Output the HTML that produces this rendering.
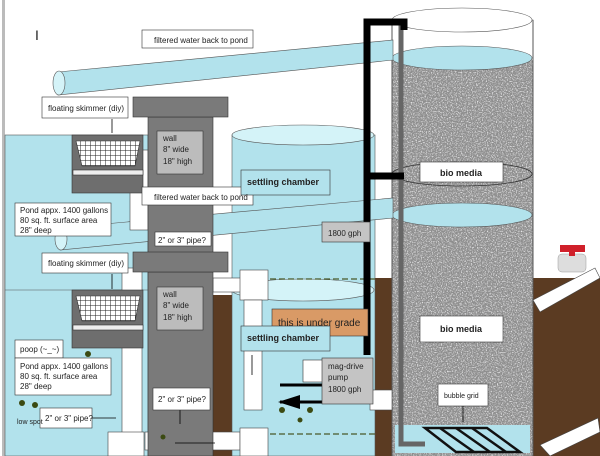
<!DOCTYPE html>
<html><head><meta charset="utf-8"><style>
html,body{margin:0;padding:0;background:#fff;}
svg{display:block;}
text{font-family:"Liberation Sans",sans-serif;font-size:8px;fill:#222;}
</style></head><body>
<svg width="600" height="456" viewBox="0 0 600 456" xmlns="http://www.w3.org/2000/svg">
<defs>
<filter id="grav" x="0" y="0" width="100%" height="100%">
<feTurbulence type="fractalNoise" baseFrequency="0.8" numOctaves="2" seed="3"/>
<feColorMatrix type="matrix" values="0 0 0 0 0.85  0 0 0 0 0.85  0 0 0 0 0.86  0 0 0 -3 1.6"/>
</filter>
<pattern id="grid" width="5" height="5" patternUnits="userSpaceOnUse"><rect width="5" height="5" fill="#fff"/><path d="M0 0H5M0 0V5" stroke="#222" stroke-width="1"/></pattern>
</defs>
<rect width="600" height="456" fill="#fff"/>
<rect x="2" y="0" width="3" height="456" fill="#bbb"/>
<rect x="375" y="278" width="20" height="178" fill="#5b3b22"/>
<rect x="533" y="278" width="67" height="178" fill="#5b3b22"/>
<rect x="213" y="295" width="20" height="161" fill="#5b3b22"/>
<rect x="5" y="135" width="143" height="321" fill="#b2e2ec" stroke="#555" stroke-width="0.6"/>
<line x1="5" y1="290" x2="148" y2="290" stroke="#555" stroke-width="0.6"/>
<rect x="232" y="135" width="143" height="321" fill="#b2e2ec" stroke="#555" stroke-width="0.6"/>
<ellipse cx="303" cy="135" rx="71" ry="10" fill="#d4f3f8" stroke="#555" stroke-width="0.6"/>
<ellipse cx="303" cy="290" rx="71" ry="11" fill="#d4f3f8" stroke="#555" stroke-width="0.6"/>
<line x1="270" y1="279" x2="375" y2="279" stroke="#4a5a2a" stroke-dasharray="6,3" stroke-width="1.2"/>
<line x1="270" y1="434" x2="375" y2="434" stroke="#4a5a2a" stroke-dasharray="6,3" stroke-width="1.2"/>
<rect x="392" y="20" width="141" height="436" fill="#fff" stroke="#555" stroke-width="0.6"/>
<rect x="392" y="60" width="141" height="396" fill="#8e8e8e"/>
<rect x="392" y="60" width="141" height="396" filter="url(#grav)"/>
<ellipse cx="462" cy="20" rx="70" ry="12" fill="#fff" stroke="#555" stroke-width="0.6"/>
<ellipse cx="462" cy="58" rx="70" ry="12" fill="#b2e2ec" stroke="#555" stroke-width="0.6"/>
<ellipse cx="462" cy="174" rx="70" ry="12" fill="none" stroke="#333" stroke-width="0.8"/>
<ellipse cx="462" cy="215" rx="70" ry="12" fill="#b2e2ec" stroke="#555" stroke-width="0.6"/>
<rect x="395" y="425" width="135" height="28" fill="#b2e2ec"/>
<line x1="392" y1="20" x2="392" y2="456" stroke="#555"/><line x1="533" y1="20" x2="533" y2="456" stroke="#555"/>
<path d="M401 24V444H425" stroke="#666" stroke-width="5" fill="none"/>
<g stroke="#111" stroke-width="2.5" fill="none"><path d="M425 428H487L520 452H456Z"/><path d="M440 428L474 452M456 428L490 452M472 428L506 452"/></g>
<path d="M58 72L393 40L393 60L58 95Z" fill="#b2e2ec" stroke="#555" stroke-width="0.6"/>
<ellipse cx="59" cy="83" rx="6" ry="12" fill="#d4f3f8" stroke="#555" stroke-width="0.6"/>
<path d="M60 228L393 198L393 218L60 250Z" fill="#b2e2ec" stroke="#555" stroke-width="0.6"/>
<ellipse cx="61" cy="239" rx="6" ry="11" fill="#d4f3f8" stroke="#555" stroke-width="0.6"/>
<path d="M367 355V22H404V30" stroke="#000" stroke-width="7" fill="none"/>
<path d="M367 176H404" stroke="#000" stroke-width="7"/>
<g fill="#fff" stroke="#444" stroke-width="0.6">
<rect x="122" y="268" width="20" height="188"/>
<rect x="130" y="150" width="18" height="80"/>
<rect x="213" y="278" width="30" height="14"/>
<rect x="240" y="270" width="28" height="30"/>
<rect x="244" y="300" width="18" height="110"/>
<rect x="108" y="432" width="36" height="24"/>
<rect x="145" y="432" width="95" height="18"/>
<rect x="240" y="428" width="28" height="28"/>
<rect x="370" y="390" width="22" height="20"/>
<path d="M533 300L595 268L600 278L540 312Z"/>
<path d="M540 445L598 418L600 432L550 456Z"/>
</g>
<rect x="558" y="254" width="28" height="18" rx="4" fill="#ddd" stroke="#999" stroke-width="0.5"/>
<rect x="560" y="245" width="25" height="7" fill="#d0202a"/><rect x="569" y="250" width="6" height="6" fill="#d0202a"/>
<g fill="#7a7a7a" stroke="#333" stroke-width="0.6">
<rect x="148" y="117" width="65" height="150"/>
<rect x="133" y="97" width="95" height="20"/>
<rect x="148" y="272" width="65" height="184"/>
<rect x="133" y="252" width="95" height="20"/>
</g>
<g fill="#bcbcbc" stroke="#333" stroke-width="0.6">
<rect x="157" y="131" width="46" height="43"/>
<rect x="157" y="287" width="46" height="43"/>
</g>
<g stroke="#333" stroke-width="0.6">
<rect x="72" y="135" width="71" height="58" fill="#6e6e6e"/>
<path d="M76 141H140L135 166H82Z" fill="url(#grid)"/>
<rect x="73" y="170" width="70" height="5" fill="#eee"/>
<rect x="72" y="290" width="71" height="58" fill="#6e6e6e"/>
<path d="M76 296H140L135 321H82Z" fill="url(#grid)"/>
<rect x="73" y="325" width="70" height="5" fill="#eee"/>
</g>
<g fill="#3b4a12"><circle cx="22" cy="403" r="3"/><circle cx="35" cy="405" r="3"/><circle cx="88" cy="354" r="3"/><circle cx="163" cy="437" r="2.5"/><circle cx="282" cy="410" r="3"/><circle cx="295" cy="402" r="3"/><circle cx="310" cy="410" r="3"/><circle cx="300" cy="420" r="2.5"/></g>
<path d="M280 385H322" stroke="#000" stroke-width="3"/>
<path d="M280 402H322" stroke="#000" stroke-width="3"/><path d="M278 402L300 395V409Z" fill="#000"/>
<g stroke="#000" stroke-width="0.8"><path d="M112 119V133"/><path d="M112 274V289"/><path d="M180 410V424"/><path d="M92 418H116"/><path d="M175 443H215"/><path d="M252 355V375"/><path d="M463 406V422"/></g>
<g fill="#fff" stroke="#333" stroke-width="0.6">
<rect x="142" y="30" width="111" height="18"/>
<rect x="42" y="97" width="86" height="21"/>
<rect x="142" y="187" width="111" height="18"/>
<rect x="42" y="253" width="86" height="20"/>
<rect x="15" y="203" width="96" height="33"/>
<rect x="15" y="340" width="48" height="18"/>
<rect x="15" y="358" width="96" height="37"/>
<rect x="40" y="408" width="52" height="20"/>
<rect x="153" y="388" width="57" height="22"/>
<rect x="155" y="232" width="56" height="14"/>
<rect x="420" y="162" width="83" height="20"/>
<rect x="420" y="316" width="83" height="26"/>
<rect x="438" y="384" width="50" height="22"/>
<rect x="303" y="360" width="20" height="22"/>
</g>
<rect x="272" y="309" width="96" height="27" fill="#d99a66" stroke="#333" stroke-width="0.6"/>
<g fill="#b2e2ec" stroke="#333" stroke-width="0.6">
<rect x="241" y="170" width="89" height="25"/>
<rect x="241" y="326" width="89" height="25"/>
</g>
<g fill="#c4c4c4" stroke="#333" stroke-width="0.6">
<rect x="322" y="222" width="48" height="20"/>
<rect x="322" y="358" width="51" height="46"/>
</g>
<text x="35" y="40" style="font-size:14px">I</text>
<text x="154" y="43">filtered water back to pond</text>
<text x="48" y="111">floating skimmer (diy)</text>
<text x="154" y="200">filtered water back to pond</text>
<text x="48" y="266">floating skimmer (diy)</text>
<text x="20" y="213">Pond appx. 1400 gallons</text><text x="20" y="223">80 sq. ft. surface area</text><text x="20" y="233">28" deep</text>
<text x="20" y="352">poop (~_~)</text>
<text x="20" y="369">Pond appx. 1400 gallons</text><text x="20" y="379">80 sq. ft. surface area</text><text x="20" y="389">28" deep</text>
<text x="17" y="424" style="font-size:7px">low spot</text>
<text x="45" y="421">2" or 3" pipe?</text>
<text x="158" y="402">2" or 3" pipe?</text>
<text x="158" y="243">2" or 3" pipe?</text>
<text x="163" y="141">wall</text><text x="163" y="152">8" wide</text><text x="163" y="164">18" high</text>
<text x="163" y="297">wall</text><text x="163" y="308">8" wide</text><text x="163" y="320">18" high</text>
<text x="247" y="185" style="font-size:9px;font-weight:bold">settling chamber</text>
<text x="247" y="341" style="font-size:9px;font-weight:bold">settling chamber</text>
<text x="278" y="326" style="font-size:10px">this is under grade</text>
<text x="328" y="236">1800 gph</text>
<text x="328" y="369">mag-drive</text><text x="328" y="380">pump</text><text x="328" y="392">1800 gph</text>
<text x="440" y="176" style="font-size:9px;font-weight:bold">bio media</text>
<text x="440" y="332" style="font-size:9px;font-weight:bold">bio media</text>
<text x="444" y="398" style="font-size:7px">bubble grid</text>
</svg>
</body></html>
